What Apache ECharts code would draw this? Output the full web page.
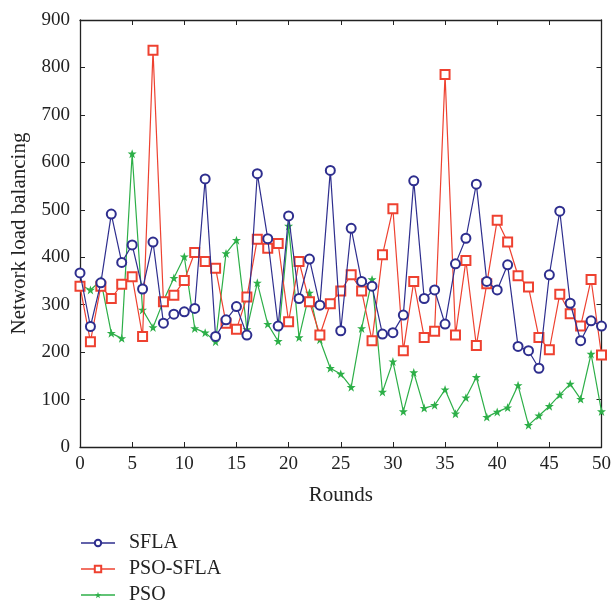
<!DOCTYPE html>
<html>
<head>
<meta charset="utf-8">
<script src="https://cdn.jsdelivr.net/npm/echarts@6/dist/echarts.min.js"></script>
<style>
  html, body { margin: 0; padding: 0; background: #fff; }
  #chart { width: 614px; height: 601px; }
</style>
</head>
<body>
<div id="chart"></div>
<script>
// rounds 0..50
var rounds = [];
for (var i = 0; i <= 50; i++) rounds.push(i);

var sfla = [367, 254, 346, 491, 389, 426, 333, 432, 261, 280, 285, 292, 565, 233, 268, 296, 236, 576, 439, 255,
            487, 313, 396, 299, 583, 245, 461, 349, 339, 238, 241, 278, 561, 313, 331, 259, 386, 440, 554, 349,
            331, 384, 212, 203, 166, 363, 497, 303, 224, 266, 255];
var psoSfla = [339, 222, 339, 313, 343, 359, 233, 836, 306, 320, 351, 410, 391, 377, 261, 248, 316, 438, 419, 429,
               264, 391, 306, 236, 302, 329, 363, 329, 224, 405, 502, 203, 349, 231, 244, 785, 236, 393, 214, 344,
               478, 432, 361, 337, 231, 205, 322, 281, 255, 353, 194];
var pso = [342, 331, 351, 240, 229, 618, 289, 252, 308, 356, 401, 250, 241, 222, 408, 436, 248, 346, 259, 223,
           466, 231, 325, 226, 166, 154, 126, 250, 353, 116, 180, 75, 157, 82, 88, 121, 70, 104, 147, 63,
           74, 83, 130, 46, 66, 86, 110, 133, 101, 196, 75];

var seriesNames = ['SFLA', 'PSO-SFLA', 'PSO'];
var colors = ['#2E2E8E', '#EE4130', '#2DAF48'];

function pairs(arr) {
  return arr.map(function (v, i) { return [rounds[i], v]; });
}

var font = 'Liberation Serif';
var chart = echarts.init(document.getElementById('chart'));

var axisLine = { show: true, onZero: false, lineStyle: { color: '#222', width: 1.3 } };
var tick = { show: true, inside: true, length: 5, lineStyle: { color: '#222' } };

var starPath = 'path://M0,-5 L1.2,-1.6 L4.8,-1.6 L1.9,0.6 L3,4.2 L0,2 L-3,4.2 L-1.9,0.6 L-4.8,-1.6 L-1.2,-1.6 Z';

var option = {
  animation: false,
  color: colors,
  textStyle: { fontFamily: font },
  grid: { left: 80, right: 8, top: 20, bottom: 154 },
  legend: {
    orient: 'vertical',
    left: 80,
    top: 533,
    height: 80,
    padding: 0,
    itemWidth: 34,
    itemHeight: 8,
    itemGap: 6,
    lineStyle: { opacity: 0.75 },
    textStyle: { fontFamily: font, fontSize: 20, lineHeight: 18, color: '#222', padding: [0, 0, 0, 9] },
    data: seriesNames
  },
  xAxis: [{
    type: 'value',
    min: 0, max: 50, interval: 5,
    name: 'Rounds',
    nameLocation: 'middle',
    nameGap: 38,
    nameTextStyle: { fontFamily: font, fontSize: 21, color: '#222' },
    axisLine: axisLine,
    axisTick: tick,
    splitLine: { show: false },
    axisLabel: { fontFamily: font, fontSize: 19, color: '#222', margin: 8 }
  }, {
    type: 'value',
    position: 'top',
    min: 0, max: 50, interval: 5,
    axisLine: axisLine,
    axisTick: tick,
    splitLine: { show: false },
    axisLabel: { show: false }
  }],
  yAxis: [{
    type: 'value',
    min: 0, max: 900, interval: 100,
    name: 'Network load balancing',
    nameLocation: 'middle',
    nameGap: 50,
    nameTextStyle: { fontFamily: font, fontSize: 21, color: '#222' },
    axisLine: axisLine,
    axisTick: tick,
    splitLine: { show: false },
    axisLabel: { fontFamily: font, fontSize: 19, color: '#222', margin: 10 }
  }, {
    type: 'value',
    position: 'right',
    min: 0, max: 900, interval: 100,
    axisLine: axisLine,
    axisTick: tick,
    splitLine: { show: false },
    axisLabel: { show: false }
  }],
  series: [{
    name: seriesNames[0],
    type: 'line',
    data: pairs(sfla),
    symbol: 'emptyCircle',
    symbolSize: 9,
    lineStyle: { width: 1.2 },
    itemStyle: { borderWidth: 1.2 },
    z: 3
  }, {
    name: seriesNames[1],
    type: 'line',
    data: pairs(psoSfla),
    symbol: 'emptyRect',
    symbolSize: 9,
    lineStyle: { width: 1.2 },
    itemStyle: { borderWidth: 1.2 },
    z: 2
  }, {
    name: seriesNames[2],
    type: 'line',
    data: pairs(pso),
    symbol: starPath,
    symbolSize: 9,
    lineStyle: { width: 1.2 },
    itemStyle: { borderWidth: 0 },
    z: 1
  }]
};

chart.setOption(option);
</script>
</body>
</html>
